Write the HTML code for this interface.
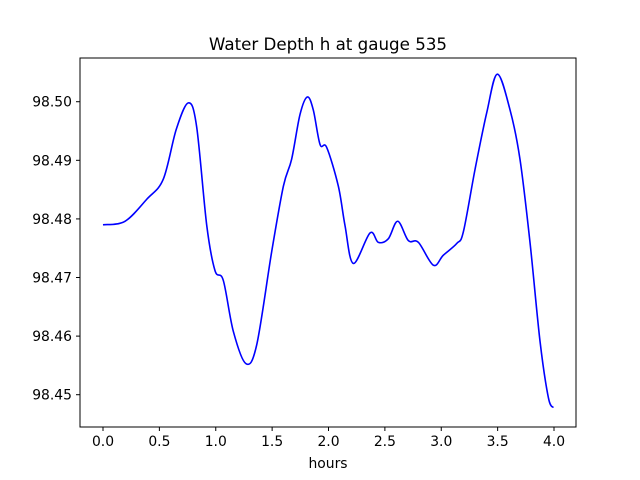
<!DOCTYPE html>
<html><head><meta charset="utf-8"><style>
body{margin:0;background:#fff}
svg{display:block;font-family:"DejaVu Sans","Liberation Sans",sans-serif}
</style></head><body>
<svg id="chart" width="640" height="480">
<rect x="0" y="0" width="640" height="480" fill="#fff"/>
<text x="328" y="50" text-anchor="middle" font-size="16.7">Water Depth h at gauge 535</text>
<g id="plot"></g>
<text x="328" y="468" text-anchor="middle" font-size="13.9">hours</text>
</svg>
<script>
const times=[0,0.195,0.39,0.535,0.65,0.757,0.83,0.92,0.993,1.067,1.156,1.268,1.363,1.496,1.6,1.673,1.747,1.812,1.865,1.925,1.984,2.087,2.146,2.22,2.368,2.442,2.53,2.614,2.708,2.797,2.93,3.018,3.137,3.196,3.3,3.403,3.497,3.61,3.698,3.787,3.876,3.95,3.994];
const depths=[98.479,98.4796,98.4834,98.4868,98.4953,98.4998,98.4958,98.4789,98.4712,98.4695,98.4608,98.4553,98.4585,98.4744,98.4856,98.4902,98.4978,98.5008,98.4986,98.4927,98.4922,98.4856,98.4789,98.4724,98.4776,98.476,98.4766,98.4796,98.4763,98.476,98.4721,98.4738,98.4758,98.4778,98.4885,98.4981,98.5047,98.4986,98.4902,98.476,98.4591,98.4495,98.4478];
const xTicks=[0,0.5,1,1.5,2,2.5,3,3.5,4];
const yTicks=[98.45,98.46,98.47,98.48,98.49,98.50];
const L=80,R=576,T=58,B=427;
const xMin=-0.204,xMax=4.195,yMin=98.44449,yMax=98.50746;
const sx=v=>L+(v-xMin)/(xMax-xMin)*(R-L);
const sy=v=>B-(v-yMin)/(yMax-yMin)*(B-T);
const NS='http://www.w3.org/2000/svg';
const g=document.getElementById('plot');
function mk(t,a){const e=document.createElementNS(NS,t);for(const k in a)e.setAttribute(k,a[k]);g.appendChild(e);return e;}
const frame=mk('rect',{x:L,y:T,width:R-L,height:B-T,fill:'none',stroke:'#000','stroke-width':1});


xTicks.forEach(t=>{
 const x=sx(t);
 const l=mk('line',{x1:x,x2:x,y1:B,y2:B+4,stroke:'#000'});
 
 
 const tx=mk('text',{x:x,y:B+19,'text-anchor':'middle','font-size':13.9});
 tx.textContent=t.toFixed(1);
 
 
});
yTicks.forEach(t=>{
 const y=sy(t);
 const l=mk('line',{x1:L-4,x2:L,y1:y,y2:y,stroke:'#000'});
 
 
 const tx=mk('text',{x:L-8,y:y+5,'text-anchor':'end','font-size':13.9});
 tx.textContent=t.toFixed(2);
 
 
});
const P=times.map((t,i)=>[sx(t),sy(depths[i])]);
let d='M'+P[0][0]+','+P[0][1];
for(let i=0;i<P.length-1;i++){
 const p0=P[Math.max(0,i-1)],p1=P[i],p2=P[i+1],p3=P[Math.min(P.length-1,i+2)];
 const c1=[p1[0]+(p2[0]-p0[0])/6,p1[1]+(p2[1]-p0[1])/6];
 const c2=[p2[0]-(p3[0]-p1[0])/6,p2[1]-(p3[1]-p1[1])/6];
 d+=` C${c1[0]},${c1[1]} ${c2[0]},${c2[1]} ${p2[0]},${p2[1]}`;
}
const line=mk('path',{d:d,fill:'none',stroke:'#0000ff','stroke-width':1.6});


</script>
</body></html>
